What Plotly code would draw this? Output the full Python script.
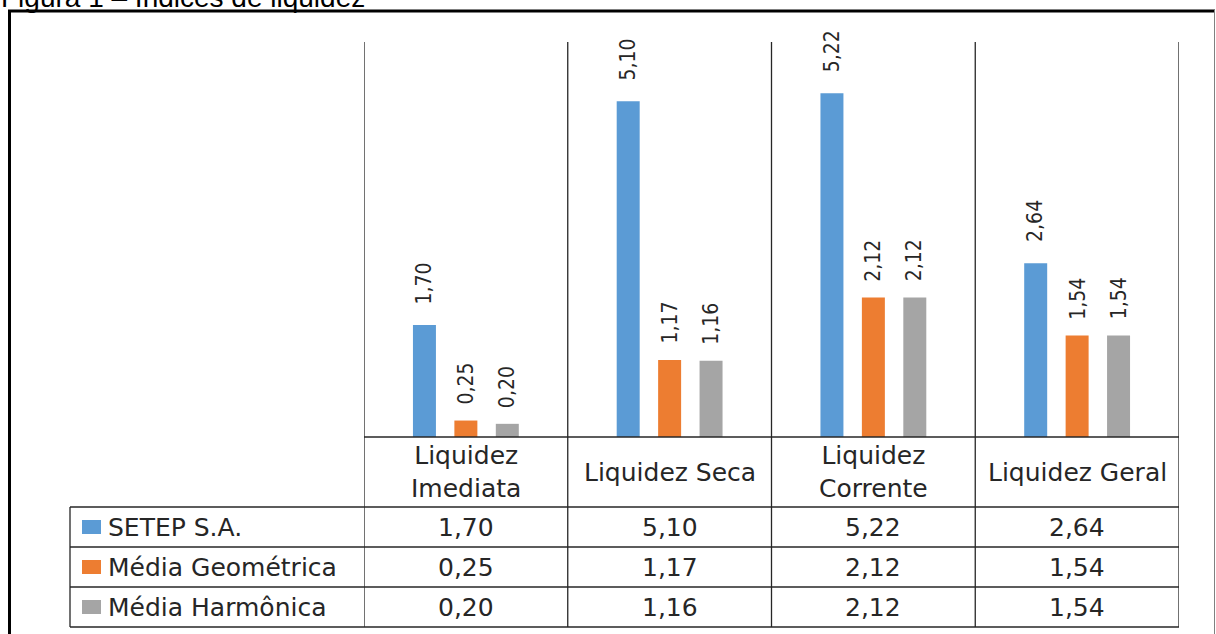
import plotly.graph_objects as go

# ---------------- data ----------------
categories = ["Liquidez Imediata", "Liquidez Seca", "Liquidez Corrente", "Liquidez Geral"]
header_labels = ["Liquidez<br>Imediata", "Liquidez Seca", "Liquidez<br>Corrente", "Liquidez Geral"]
series_names = ["SETEP S.A.", "Média Geométrica", "Média Harmônica"]
setep = [1.70, 5.10, 5.22, 2.64]
media_geometrica = [0.25, 1.17, 2.12, 1.54]
media_harmonica = [0.20, 1.16, 2.12, 1.54]
title_text = "Figura 1 – Índices de liquidez"

series_values = [setep, media_geometrica, media_harmonica]
colors = ["#5B9BD5", "#ED7D31", "#A5A5A5"]

# ---------------- layout geometry ----------------
W, H = 1216, 634
L, R, T, B = 364, 37, 42, 197
PW, PH = W - L - R, H - T - B
BARGAP, GROUPGAP = 0.39, 0.445
LINE = "#262626"
TXT = "#262626"


def px(x):
    return (x - L) / PW


def py(y):
    return (H - B - y) / PH


def fmt(v):
    return f"{v:.2f}".replace(".", ",")


fig = go.Figure()
for name, vals, col in zip(series_names, series_values, colors):
    fig.add_trace(go.Bar(x=categories, y=vals, name=name, marker=dict(color=col, line=dict(width=0)),
                         hoverinfo="skip"))

shapes = []
annotations = []
ncat = len(categories)

# rotated data labels above bars
label_shift = [19, 14, 14]
for i, (vals, shift) in enumerate(zip(series_values, label_shift)):
    off = (i - 1) * (1 - BARGAP) / 3
    for j, v in enumerate(vals):
        annotations.append(dict(xref="x", yref="y", x=j + off, y=v, text=fmt(v), showarrow=False,
                                textangle=-90, xanchor="center", yanchor="bottom", yshift=shift,
                                font=dict(family="Liberation Sans Narrow, DejaVu Sans Condensed, Liberation Sans",
                                          size=21, color=TXT)))

# category separators (chart + table)
for k in range(ncat + 1):
    shapes.append(dict(type="line", xref="x", yref="paper", x0=k - 0.5, x1=k - 0.5, y0=py(627), y1=1,
                       line=dict(color=LINE, width=1.3)))
# baseline / header top
shapes.append(dict(type="line", xref="x", yref="paper", x0=-0.5, x1=ncat - 0.5, y0=0, y1=0,
                   line=dict(color=LINE, width=1.3)))
# table row lines
for yl in [507, 547, 587, 627]:
    shapes.append(dict(type="line", xref="paper", yref="paper", x0=px(70), x1=1, y0=py(yl), y1=py(yl),
                       line=dict(color=LINE, width=1.3)))
shapes.append(dict(type="line", xref="paper", yref="paper", x0=px(70), x1=px(70), y0=py(507), y1=py(627),
                   line=dict(color=LINE, width=1.3)))

tfont = dict(family="DejaVu Sans", size=25, color=TXT)
# header labels
for j, lab in enumerate(header_labels):
    annotations.append(dict(xref="x", yref="paper", x=j, y=py(472), text=lab, showarrow=False,
                            xanchor="center", yanchor="middle", font=tfont))
# table rows
row_centers = [527, 567, 607]
for name, vals, col, rc in zip(series_names, series_values, colors, row_centers):
    shapes.append(dict(type="rect", xref="paper", yref="paper", x0=px(82), x1=px(101),
                       y0=py(rc - 7), y1=py(rc + 7), fillcolor=col, line=dict(width=0)))
    annotations.append(dict(xref="paper", yref="paper", x=px(106), y=py(rc), text=name, showarrow=False,
                            xanchor="left", yanchor="middle", font=tfont))
    for j, v in enumerate(vals):
        annotations.append(dict(xref="x", yref="paper", x=j, y=py(rc), text=fmt(v), showarrow=False,
                                xanchor="center", yanchor="middle", font=tfont))

# outer border
shapes.append(dict(type="line", xref="paper", yref="paper", x0=px(8), x1=px(1215), y0=py(11), y1=py(11),
                   line=dict(color="black", width=3)))
shapes.append(dict(type="line", xref="paper", yref="paper", x0=px(9.5), x1=px(9.5), y0=py(640), y1=py(10),
                   line=dict(color="black", width=3)))
shapes.append(dict(type="line", xref="paper", yref="paper", x0=px(1214.5), x1=px(1214.5), y0=py(640), y1=py(10),
                   line=dict(color="#808080", width=1)))

# partially visible title (cut at the top edge, as in the reference)
annotations.append(dict(xref="paper", yref="paper", x=px(-1), y=py(15), text=title_text, showarrow=False,
                        xanchor="left", yanchor="bottom",
                        font=dict(family="Liberation Sans, Arial", size=28, color="black")))

fig.update_layout(
    width=W, height=H,
    margin=dict(l=L, r=R, t=T, b=B, pad=0),
    paper_bgcolor="white", plot_bgcolor="white",
    barmode="group", bargap=BARGAP, bargroupgap=GROUPGAP,
    showlegend=False,
    xaxis=dict(visible=False, range=[-0.5, ncat - 0.5]),
    yaxis=dict(visible=False, range=[0, 6]),
    shapes=shapes, annotations=annotations,
)

fig.write_html("out.html", config={"displayModeBar": False})
